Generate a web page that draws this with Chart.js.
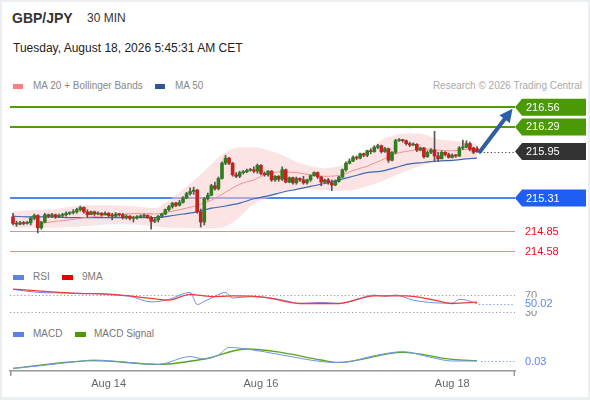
<!DOCTYPE html>
<html><head><meta charset="utf-8">
<script src="https://cdn.jsdelivr.net/npm/chart.js@4.4.1/dist/chart.umd.min.js"></script>
<style>
html,body{margin:0;padding:0;}
body{width:590px;height:400px;background:#eceff2;position:relative;overflow:hidden;font-family:"Liberation Sans",Arial,Helvetica,sans-serif;}
#card{position:absolute;left:2px;top:2px;width:586px;height:395px;background:#fff;}
.t{position:absolute;white-space:nowrap;}
.sw{position:absolute;width:10px;height:5px;}
canvas{position:absolute;left:0;}
</style></head><body>
<div id="card"></div>
<div class="t" style="left:12px;top:10px;font-size:14px;font-weight:bold;color:#333;line-height:16px">GBP/JPY</div>
<div class="t" style="left:87px;top:11px;font-size:12px;color:#333;line-height:14px">30 MIN</div>
<div class="t" style="left:13px;top:41px;font-size:12px;color:#222;line-height:14px">Tuesday, August 18, 2026 5:45:31 AM CET</div>
<div class="sw" style="left:13px;top:84px;background:#ff7f7f"></div>
<div class="t" style="left:33px;top:80px;font-size:10px;color:#888;line-height:12px">MA 20 + Bollinger Bands</div>
<div class="sw" style="left:155px;top:84px;background:#2f5597"></div>
<div class="t" style="left:175px;top:80px;font-size:10px;color:#888;line-height:12px">MA 50</div>
<div class="t" style="right:8px;top:80px;font-size:10px;color:#aaa;line-height:12px">Research © 2026 Trading Central</div>
<div class="sw" style="left:13px;top:275px;width:11px;background:#5b82e6"></div>
<div class="t" style="left:33px;top:271px;font-size:10px;color:#777;line-height:12px">RSI</div>
<div class="sw" style="left:62px;top:275px;width:11px;background:#e60000"></div>
<div class="t" style="left:82px;top:271px;font-size:10px;color:#777;line-height:12px">9MA</div>
<div class="sw" style="left:13px;top:332px;width:11px;background:#5b82e6"></div>
<div class="t" style="left:33px;top:328px;font-size:10px;color:#777;line-height:12px">MACD</div>
<div class="sw" style="left:75px;top:332px;width:11px;background:#4a9a05"></div>
<div class="t" style="left:94px;top:328px;font-size:10px;color:#777;line-height:12px">MACD Signal</div>
<canvas id="main" width="590" height="170" style="top:92px"></canvas>
<canvas id="rsi" width="590" height="36" style="top:282px"></canvas>
<canvas id="macd" width="590" height="60" style="top:338px"></canvas>
<script>
// ---------- DATA ----------
const opens = [215.05,214.96,214.95,214.97,214.96,214.97,215.03,215.07,214.90,214.98,
215.08,215.06,215.08,215.05,215.07,215.08,215.10,215.11,215.12,215.15,
215.18,215.12,215.08,215.12,215.09,215.10,215.08,215.10,215.07,215.06,
215.09,215.08,215.04,215.06,215.03,215.04,215.05,215.06,215.07,215.04,
214.99,215.01,215.06,215.09,215.15,215.19,215.24,215.21,215.25,215.31,
215.37,215.40,215.42,215.12,214.98,215.30,215.35,215.48,215.44,215.58,
215.79,215.86,215.79,215.63,215.61,215.66,215.67,215.69,215.70,215.68,
215.76,215.65,215.63,215.68,215.56,215.61,215.57,215.70,215.53,215.59,
215.52,215.58,215.56,215.52,215.56,215.62,215.66,215.60,215.53,215.56,
215.52,215.49,215.54,215.60,215.70,215.79,215.82,215.87,215.86,215.92,
215.90,215.96,215.95,216.01,216.03,215.95,215.99,215.83,215.94,216.10,
216.11,216.10,216.06,216.04,216.05,215.97,216.00,215.88,215.94,215.97,
215.89,215.85,215.94,215.91,215.87,215.90,215.89,216.00,216.01,216.06,
216.00,215.99];
const highs = [215.10,214.99,214.99,214.99,214.99,215.05,215.09,215.08,214.99,215.10,
215.09,215.10,215.09,215.09,215.10,215.12,215.12,215.15,215.17,215.20,
215.19,215.15,215.13,215.13,215.12,215.11,215.12,215.11,215.10,215.11,
215.10,215.10,215.08,215.07,215.06,215.07,215.08,215.09,215.08,215.06,
215.03,215.07,215.10,215.16,215.21,215.25,215.25,215.28,215.33,215.39,
215.45,215.46,215.43,215.16,215.32,215.38,215.50,215.53,215.60,215.81,
215.90,215.87,215.80,215.66,215.68,215.69,215.71,215.72,215.74,215.78,
215.77,215.67,215.69,215.69,215.62,215.62,215.74,215.71,215.60,215.60,
215.60,215.59,215.61,215.57,215.63,215.67,215.67,215.61,215.57,215.58,
215.56,215.56,215.61,215.71,215.81,215.85,215.89,215.89,215.93,215.93,
215.97,215.99,216.03,216.05,216.04,216.01,216.00,215.95,216.12,216.13,
216.12,216.11,216.08,216.07,216.06,216.01,216.01,215.96,215.99,216.23,
215.94,215.96,215.95,215.93,215.92,215.91,216.02,216.11,216.10,216.08,
216.01,216.02];
const lows = [214.94,214.92,214.94,214.94,214.95,214.94,215.01,214.83,214.88,214.97,
215.04,215.04,215.03,215.04,215.05,215.06,215.08,215.09,215.10,215.13,
215.10,215.04,215.08,215.07,215.08,215.06,215.08,215.05,215.01,215.05,
215.06,215.02,215.02,215.01,214.98,215.02,215.04,215.05,215.03,214.88,
214.97,214.98,215.04,215.08,215.13,215.17,215.19,215.20,215.24,215.30,
215.35,215.36,215.10,214.91,214.94,215.28,215.34,215.42,215.42,215.57,
215.77,215.77,215.61,215.59,215.59,215.64,215.66,215.68,215.66,215.65,
215.63,215.61,215.61,215.54,215.54,215.54,215.55,215.52,215.52,215.50,
215.50,215.54,215.50,215.50,215.54,215.61,215.58,215.48,215.52,215.50,
215.41,215.48,215.53,215.59,215.68,215.78,215.81,215.84,215.85,215.88,
215.88,215.92,215.94,215.99,215.93,215.94,215.80,215.82,215.92,216.09,
216.08,216.04,216.02,216.03,215.95,215.96,215.86,215.87,215.92,215.81,
215.81,215.85,215.89,215.86,215.86,215.87,215.88,215.98,216.00,215.96,
215.92,215.94];
const closes = [214.96,214.95,214.97,214.96,214.97,215.03,215.07,214.90,214.98,215.08,
215.06,215.08,215.05,215.07,215.08,215.10,215.11,215.12,215.15,215.18,
215.12,215.08,215.12,215.09,215.10,215.08,215.10,215.07,215.06,215.09,
215.08,215.04,215.06,215.03,215.04,215.05,215.06,215.07,215.04,214.99,
215.01,215.06,215.09,215.15,215.19,215.24,215.21,215.25,215.31,215.37,
215.40,215.42,215.12,214.98,215.30,215.35,215.48,215.44,215.58,215.79,
215.86,215.79,215.63,215.61,215.66,215.67,215.69,215.70,215.68,215.76,
215.65,215.63,215.68,215.56,215.61,215.57,215.70,215.53,215.59,215.52,
215.58,215.56,215.52,215.56,215.62,215.66,215.60,215.53,215.56,215.52,
215.49,215.54,215.60,215.70,215.79,215.82,215.87,215.86,215.92,215.90,
215.96,215.95,216.01,216.03,215.95,215.99,215.83,215.94,216.10,216.11,
216.10,216.06,216.04,216.05,215.97,216.00,215.88,215.94,215.97,215.89,
215.85,215.94,215.91,215.87,215.90,215.89,216.00,216.01,216.06,215.98,
215.94,215.95];

// moving averages / bands, read at these candle indices
const maIdx = [0,4,8,12,16,20,24,28,32,36,40,44,48,52,56,60,64,68,72,76,80,84,88,92,96,100,104,108,112,116,120,124,128,131];
const ma50 = [215.06,215.05,215.05,215.05,215.04,215.04,215.04,215.04,215.04,215.04,215.04,215.06,215.09,215.12,215.17,215.20,215.24,215.30,215.34,215.39,215.43,215.47,215.51,215.56,215.61,215.66,215.68,215.73,215.78,215.80,215.82,215.83,215.85,215.86];
const bbUpper = [215.13,215.14,215.15,215.16,215.19,215.21,215.21,215.21,215.20,215.19,215.17,215.28,215.43,215.59,215.78,215.94,216.01,216.01,215.97,215.90,215.81,215.75,215.72,215.75,215.83,215.96,216.11,216.18,216.20,216.19,216.12,216.10,216.08,216.05];
const bbLower = [214.90,214.90,214.90,214.90,214.91,214.92,214.94,214.95,214.95,214.94,214.92,214.90,214.90,214.89,214.89,214.92,215.05,215.23,215.31,215.38,215.43,215.43,215.42,215.41,215.42,215.47,215.54,215.62,215.70,215.77,215.81,215.83,215.85,215.86];
const ma20Idx = [8,12,16,20,24,28,32,36,40,44,48,52,56,60,64,68,72,76,80,84,88,92,96,100,104,108,112,116,120,124,128,131];
const ma20 = [214.96,214.99,215.01,215.04,215.06,215.08,215.09,215.10,215.09,215.12,215.16,215.21,215.28,215.39,215.50,215.56,215.65,215.67,215.66,215.63,215.61,215.62,215.69,215.75,215.83,215.92,215.96,215.99,215.97,215.96,215.98,215.97];

// key levels
const levels = [216.56, 216.29, 215.31, 214.85, 214.58];
const levelKinds = ['res','res','pivot','sup','sup'];
const lastPrice = 215.95;
const targetPrice = 216.56;

// RSI panel
const rsiIdx = [0,7,12,18,23,28,33,39,44,50,52,54,56,60,62,67,71,77,81,87,92,97,102,105,108,113,119,124,126,128,131];
const rsiVals = [83,76,75,74,73,70,67,54,60,76,48,55,63,76,63,66,65,57,50,53,50,60,70,67,70,58,52,51,60,58,50.02];
const ma9Idx = [0,18,28,39,44,50,56,62,71,81,92,102,111,119,124,131];
const ma9Vals = [83.4,73.9,71.6,62.2,58.2,71.6,66.3,67.8,64.7,50.4,50.4,67.8,67.8,58.2,50.4,53.5];
const rsiBands = [70, 30];

// MACD panel
const macdIdx = [0,7,18,23,28,41,50,54,58,61,66,76,87,92,103,110,118,124,131];
const macdVals = [-0.007,0.005,0.027,0.035,0.030,0.013,0.052,0.040,0.060,0.098,0.090,0.060,0.027,0.022,0.060,0.077,0.048,0.030,0.030];
const sigIdx = [0,23,41,54,66,76,87,92,110,124,131];
const sigVals = [-0.007,0.032,0.013,0.040,0.090,0.072,0.035,0.023,0.073,0.038,0.032];

// x-axis tick labels
const tickIdx = [27, 70, 124];
const tickLabels = ['Aug 14', 'Aug 16', 'Aug 18'];

// ---------- STYLE / LAYOUT ----------
const FONT = '"Liberation Sans", Arial, Helvetica, sans-serif';
const XMIN = -0.847, XMAX = 141.72;
const PAD = {left: 10, right: 75, top: 0, bottom: 0};
const UP = '#2f7d1f', DOWN = '#c8201e', WICK = '#555';
const LEVEL_STYLE = {
  res:   {line: '#4f9c0c', width: 2, tag: '#4a9a05'},
  pivot: {line: '#4f86ea', width: 2, tag: '#1f5ef5'},
  sup:   {line: '#f08a8a', width: 1, text: '#e8101a'}
};
const N = closes.length;
const pts = (ix, vs) => ix.map((x, k) => ({x: x, y: vs[k]}));
const xScale = (extra) => Object.assign({type: 'linear', min: XMIN, max: XMAX, offset: false, display: false}, extra || {});

function tag(ctx, x, y, color, text) {
  const h = 17, w = 71;
  ctx.beginPath();
  ctx.moveTo(x, y);
  ctx.lineTo(x + 7, y - h / 2);
  ctx.lineTo(x + w, y - h / 2);
  ctx.lineTo(x + w, y + h / 2);
  ctx.lineTo(x + 7, y + h / 2);
  ctx.closePath();
  ctx.fillStyle = color; ctx.fill();
  ctx.fillStyle = '#fff';
  ctx.font = '11px ' + FONT;
  ctx.textAlign = 'left'; ctx.textBaseline = 'middle';
  ctx.fillText(text, x + 11, y + 0.5);
}
function dotted(ctx, x0, x1, y, color) {
  ctx.save();
  ctx.strokeStyle = color; ctx.lineWidth = 1; ctx.setLineDash([1.2, 2.4]);
  ctx.beginPath(); ctx.moveTo(x0, y); ctx.lineTo(x1, y); ctx.stroke();
  ctx.restore();
}

// ---------- MAIN CHART ----------
const mainDeco = {
  id: 'mainDeco',
  beforeDatasetsDraw(chart) {
    const {ctx, chartArea: ca, scales: {y}} = chart;
    ctx.save();
    levels.forEach((v, k) => {
      const st = LEVEL_STYLE[levelKinds[k]];
      let py = y.getPixelForValue(v);
      py = st.width % 2 ? Math.round(py) + 0.5 : Math.round(py);
      ctx.strokeStyle = st.line; ctx.lineWidth = st.width;
      ctx.beginPath(); ctx.moveTo(ca.left, py); ctx.lineTo(ca.right, py); ctx.stroke();
    });
    ctx.restore();
  },
  afterDatasetsDraw(chart) {
    const {ctx, chartArea: ca, scales: {x, y}} = chart;
    ctx.save();
    const lx = x.getPixelForValue(N - 1) + 3;
    const ly = y.getPixelForValue(lastPrice);
    dotted(ctx, lx, ca.right, Math.round(ly) + 0.5, '#444');
    // arrow
    const tx = ca.right - 2.5, ty = y.getPixelForValue(targetPrice) + 1.5;
    const a = Math.atan2(ty - ly, tx - lx);
    const hl = 13, hw = 6.5;
    const bx = tx - hl * Math.cos(a), by = ty - hl * Math.sin(a);
    ctx.strokeStyle = '#2d5ea8'; ctx.fillStyle = '#2d5ea8';
    ctx.lineWidth = 4; ctx.lineCap = 'round';
    ctx.beginPath(); ctx.moveTo(lx, ly); ctx.lineTo(bx + 2 * Math.cos(a), by + 2 * Math.sin(a)); ctx.stroke();
    ctx.beginPath();
    ctx.moveTo(tx, ty);
    ctx.lineTo(bx - hw * Math.sin(a), by + hw * Math.cos(a));
    ctx.lineTo(bx + hw * Math.sin(a), by - hw * Math.cos(a));
    ctx.closePath(); ctx.fill();
    // level tags
    levels.forEach((v, k) => {
      const st = LEVEL_STYLE[levelKinds[k]];
      const py = y.getPixelForValue(v);
      if (st.tag) tag(ctx, ca.right, py, st.tag, v.toFixed(2));
      else {
        ctx.fillStyle = st.text; ctx.font = '11px ' + FONT;
        ctx.textAlign = 'left'; ctx.textBaseline = 'middle';
        ctx.fillText(v.toFixed(2), ca.right + 10, py + 0.5);
      }
    });
    tag(ctx, ca.right, ly, '#333333', lastPrice.toFixed(2));
    ctx.restore();
  }
};

new Chart(document.getElementById('main'), {
  type: 'bar',
  data: {
    datasets: [
      {type: 'line', data: pts(maIdx, bbUpper), borderWidth: 0, pointRadius: 0, fill: '+1',
       backgroundColor: 'rgba(252,205,205,0.55)', cubicInterpolationMode: 'monotone', order: 10},
      {type: 'line', data: pts(maIdx, bbLower), borderWidth: 0, pointRadius: 0, fill: false,
       cubicInterpolationMode: 'monotone', order: 9},
      {type: 'line', data: pts(maIdx, ma50), borderColor: '#3d69b3', borderWidth: 1.2, pointRadius: 0,
       cubicInterpolationMode: 'monotone', order: 8},
      {type: 'line', data: pts(ma20Idx, ma20), borderColor: '#f49090', borderWidth: 1, pointRadius: 0,
       cubicInterpolationMode: 'monotone', order: 7},
      {type: 'bar', data: closes.map((c, i) => ({x: i, y: [lows[i], highs[i]]})), grouped: false,
       barThickness: 1, backgroundColor: WICK, borderWidth: 0, order: 2},
      {type: 'bar', data: closes.map((c, i) => ({x: i, y: [opens[i], c]})), grouped: false,
       barThickness: 3, minBarLength: 1, borderWidth: 0, order: 1,
       backgroundColor: (c) => closes[c.dataIndex] >= opens[c.dataIndex] ? UP : DOWN}
    ]
  },
  options: {
    responsive: false, animation: false, devicePixelRatio: 1,
    layout: {padding: PAD},
    plugins: {legend: {display: false}, tooltip: {enabled: false}},
    scales: {x: xScale(), y: {min: 214.4291, max: 216.7707, display: false}}
  },
  plugins: [mainDeco]
});

// ---------- RSI CHART ----------
const rsiDeco = {
  id: 'rsiDeco',
  beforeDatasetsDraw(chart) {
    const {ctx, chartArea: ca, scales: {y}} = chart;
    rsiBands.forEach(v => dotted(ctx, ca.left, ca.right, Math.round(y.getPixelForValue(v)) + 0.5, '#999'));
  },
  afterDatasetsDraw(chart) {
    const {ctx, chartArea: ca, scales: {x, y}} = chart;
    ctx.save();
    const last = rsiVals[rsiVals.length - 1];
    const ly = y.getPixelForValue(last);
    dotted(ctx, x.getPixelForValue(rsiIdx[rsiIdx.length - 1]) + 2, ca.right, Math.round(ly) + 0.5, '#6d8ff0');
    ctx.font = '11px ' + FONT; ctx.textAlign = 'left'; ctx.textBaseline = 'middle';
    ctx.fillStyle = '#888';
    rsiBands.forEach(v => ctx.fillText(String(v), ca.right + 10, y.getPixelForValue(v) + 0.5));
    ctx.fillStyle = '#fff';
    ctx.fillRect(ca.right + 8, ly - 6, 40, 13);
    ctx.fillStyle = '#5b86ee';
    ctx.fillText(last.toFixed(2), ca.right + 10, ly + 0.5);
    ctx.restore();
  }
};
new Chart(document.getElementById('rsi'), {
  type: 'line',
  data: {
    datasets: [
      {data: pts(rsiIdx, rsiVals), borderColor: '#6d8ff0', borderWidth: 1, pointRadius: 0, cubicInterpolationMode: 'monotone', order: 2},
      {data: pts(ma9Idx, ma9Vals), borderColor: '#f23b3b', borderWidth: 1.3, pointRadius: 0, cubicInterpolationMode: 'monotone', order: 1}
    ]
  },
  options: {
    responsive: false, animation: false, devicePixelRatio: 1,
    layout: {padding: PAD},
    plugins: {legend: {display: false}, tooltip: {enabled: false}},
    scales: {x: xScale(), y: {min: 16.82, max: 100.06, display: false}}
  },
  plugins: [rsiDeco]
});

// ---------- MACD CHART ----------
const macdDeco = {
  id: 'macdDeco',
  afterDatasetsDraw(chart) {
    const {ctx, chartArea: ca, scales: {x, y}} = chart;
    ctx.save();
    const last = macdVals[macdVals.length - 1];
    const ly = y.getPixelForValue(last);
    dotted(ctx, x.getPixelForValue(macdIdx[macdIdx.length - 1]) + 4, ca.right, Math.round(ly) + 0.5, '#6d8ff0');
    ctx.font = '11px ' + FONT; ctx.textAlign = 'left'; ctx.textBaseline = 'middle';
    ctx.fillStyle = '#5b86ee';
    ctx.fillText(last.toFixed(2), ca.right + 10, ly + 0.5);
    ctx.restore();
  },
  afterDraw(chart) {
    const {ctx, chartArea: ca} = chart;
    ctx.save();
    ctx.strokeStyle = '#999'; ctx.lineWidth = 1.5;
    ctx.beginPath();
    ctx.moveTo(ca.left + 0.75, ca.bottom); ctx.lineTo(ca.left + 0.75, ca.bottom + 5);
    ctx.moveTo(ca.right - 0.75, ca.bottom); ctx.lineTo(ca.right - 0.75, ca.bottom + 5);
    ctx.stroke();
    ctx.restore();
  }
};
new Chart(document.getElementById('macd'), {
  type: 'line',
  data: {
    datasets: [
      {data: pts(sigIdx, sigVals), borderColor: '#5aa420', borderWidth: 1.3, pointRadius: 0, cubicInterpolationMode: 'monotone', order: 2},
      {data: pts(macdIdx, macdVals), borderColor: '#6f93ee', borderWidth: 1, pointRadius: 0, cubicInterpolationMode: 'monotone', order: 1}
    ]
  },
  options: {
    responsive: false, animation: false, devicePixelRatio: 1,
    layout: {padding: PAD},
    plugins: {legend: {display: false}, tooltip: {enabled: false}},
    scales: {
      x: xScale({
        display: true,
        grid: {display: false, drawTicks: false},
        border: {display: true, color: '#999', width: 1.5},
        afterBuildTicks: (s) => { s.ticks = tickIdx.map(v => ({value: v})); },
        afterFit: (s) => { s.height = 27; },
        ticks: {autoSkip: false, maxRotation: 0, padding: 6, color: '#666',
                font: {family: FONT, size: 11},
                callback: (v, i) => tickLabels[i]}
      }),
      y: {min: -0.02, max: 0.145, display: false}
    }
  },
  plugins: [macdDeco]
});
</script>
</body></html>
